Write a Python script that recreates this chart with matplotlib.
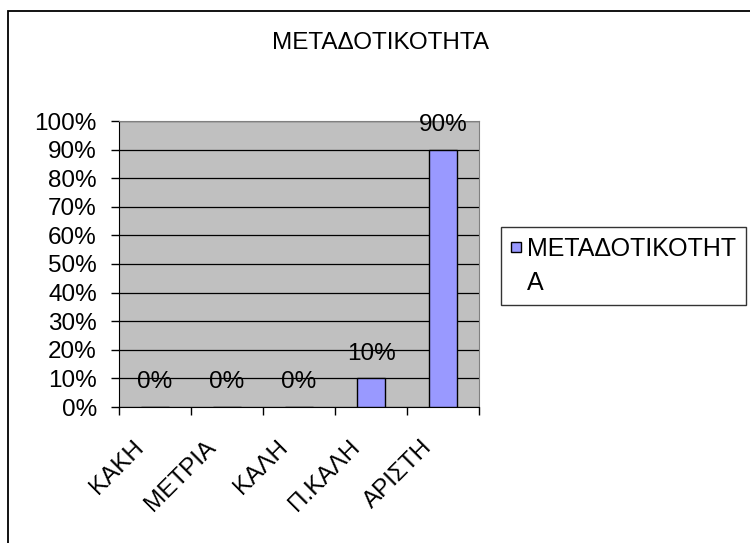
import matplotlib
matplotlib.use("Agg")
from matplotlib import pyplot as plt
from matplotlib.patches import Rectangle
from matplotlib.ticker import FixedLocator, PercentFormatter
from matplotlib.transforms import ScaledTranslation
import numpy as np

plt.rcParams['font.family'] = ['Liberation Sans', 'DejaVu Sans']

categories = ["ΚΑΚΗ", "ΜΕΤΡΙΑ", "ΚΑΛΗ", "Π.ΚΑΛΗ", "ΑΡΙΣΤΗ"]
values = [0, 0, 0, 10, 90]
series_name = "ΜΕΤΑΔΟΤΙΚΟΤΗΤΑ"
title = "ΜΕΤΑΔΟΤΙΚΟΤΗΤΑ"

fs = 17.5

fig = plt.figure(figsize=(7.5, 5.43), dpi=100)
ax = fig.add_axes([119/750, 1-407/543, 360/750, 286/543])

# outer chart border
fig.patches.append(Rectangle((8/750, -0.01), 1.0, 1-11/543+0.01, transform=fig.transFigure,
                             fill=False, edgecolor="black", linewidth=1.3))

x = np.arange(len(categories))
bars = ax.bar(x, values, width=0.39, color="#9999FF", edgecolor="black", linewidth=1.0,
              zorder=3, label=series_name)

ax.set_facecolor("#C0C0C0")
ax.set_xlim(-0.5, len(categories) - 0.5)
ax.set_ylim(0, 100)
ax.set_yticks(np.arange(0, 101, 10))
ax.yaxis.set_major_formatter(PercentFormatter(decimals=0))
ax.grid(axis="y", color="black", linewidth=0.9, zorder=1)
ax.set_axisbelow(True)

for v, xi in zip(values, x):
    ax.annotate(f"{v}%", (xi, v), xytext=(0, 10), textcoords="offset points",
                ha="center", va="bottom", fontsize=fs, zorder=4)

# category labels at centers, tick marks at category borders
ax.set_xticks(x)
ax.set_xticklabels(categories, rotation=45, ha="right", rotation_mode="anchor", fontsize=fs)
ax.tick_params(axis="x", which="major", length=0, pad=21)
shift = ScaledTranslation(-16/72, 0, fig.dpi_scale_trans)
for lab in ax.get_xticklabels():
    lab.set_transform(lab.get_transform() + shift)
ax.xaxis.set_minor_locator(FixedLocator(np.arange(-0.5, len(categories), 1)))
ax.tick_params(axis="x", which="minor", length=6, width=1, direction="out")
ax.tick_params(axis="y", length=6, width=1, direction="out", pad=10, labelsize=fs)

for side in ["top", "right"]:
    ax.spines[side].set_color("#808080")
ax.spines["left"].set_color("black")
ax.spines["bottom"].set_color("black")

fig.text(380/750, 1-43/543, title, ha="center", va="center", fontsize=fs)

lfs = 18
handles, labels = ax.get_legend_handles_labels()
leg = fig.legend(handles, ["ΜΕΤΑΔΟΤΙΚΟΤΗΤ\nΑ"], loc="upper left",
                 bbox_to_anchor=(501/750, 1-227/543), fontsize=lfs, fancybox=False,
                 frameon=True, edgecolor="black", borderaxespad=0, handlelength=0.4,
                 handleheight=0.4, handletextpad=0.25, borderpad=0.4)
leg.get_frame().set_linewidth(1.0)
leg.get_texts()[0].set_linespacing(1.55)
# square marker, level with the first line of the wrapped label
patch = leg.get_patches()[0]
w, h = patch.get_width(), patch.get_height()
patch.set_height(w)
patch.set_y(patch.get_y() + (h - w) / 2 + 0.78 * lfs)

fig.savefig("out.png", dpi=100)
